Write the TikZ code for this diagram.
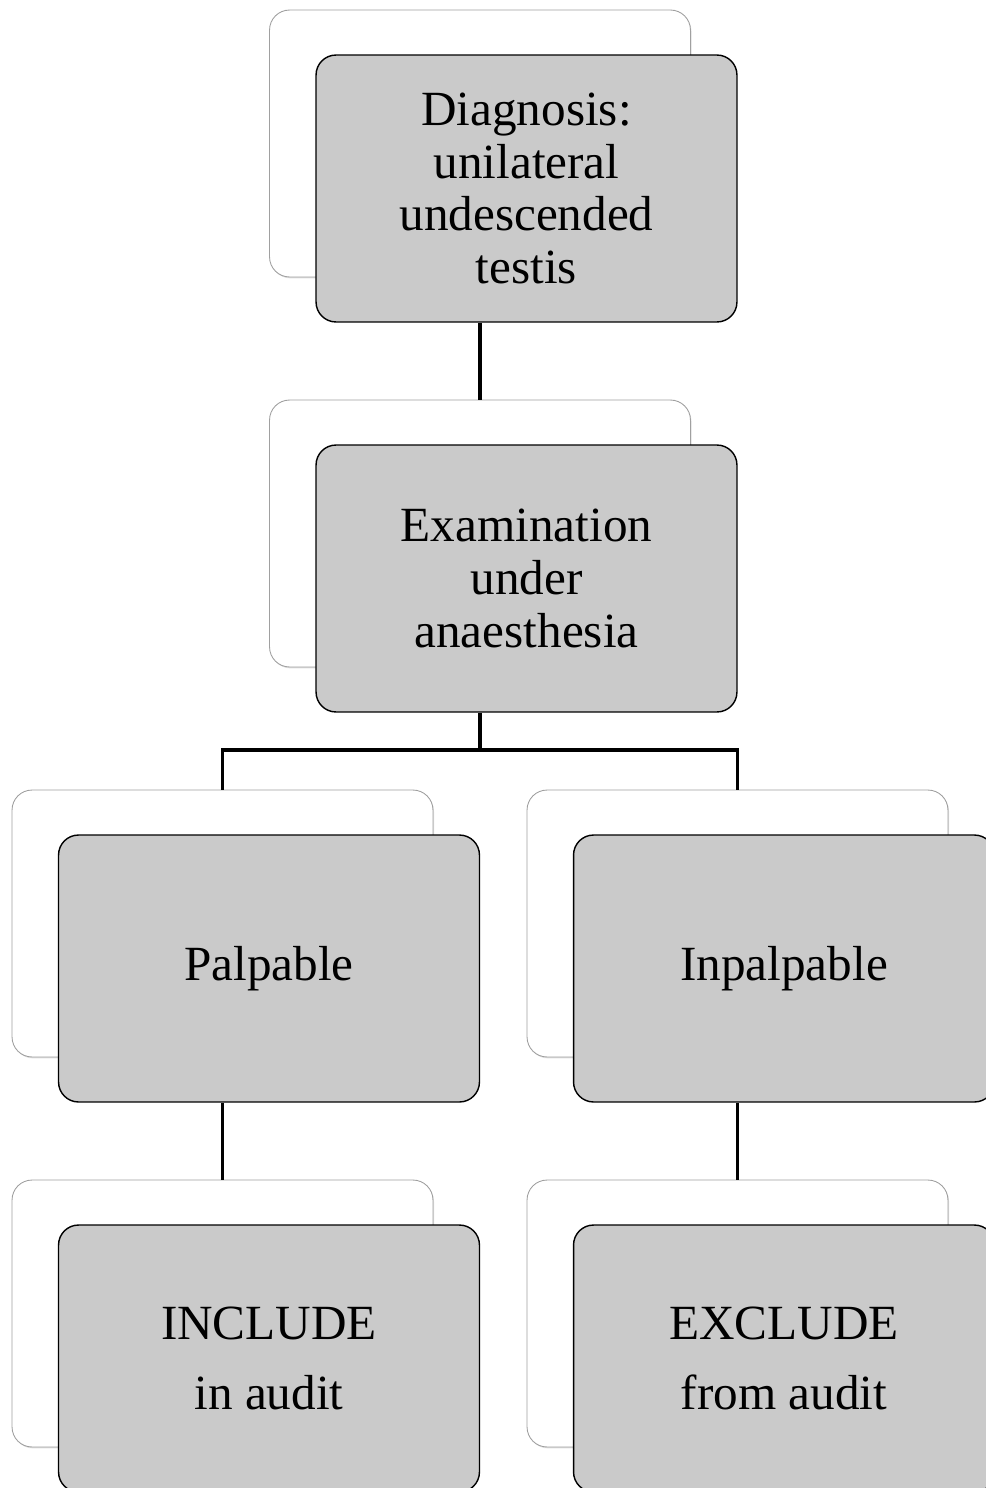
\documentclass[tikz,border=0pt]{standalone}
\usepackage{xcolor}
\usepackage{fontspec}
\setmainfont{Liberation Serif}
\usepackage{tikz}
\usetikzlibrary{positioning,calc,shadows}
\definecolor{cardgray}{RGB}{202,202,202}
\definecolor{edgegray}{RGB}{160,160,160}
\tikzset{
    backcard/.style={rectangle, draw=edgegray, line width=0.5pt, rounded corners=0.4cm, fill=white, minimum width=8.42cm, minimum height=5.34cm, drop shadow={shadow xshift=0.6pt, shadow yshift=-0.8pt, opacity=0.25}},
    frontcard/.style={rectangle, draw, line width=0.8pt, rounded corners=0.4cm, fill=cardgray, minimum width=8.42cm, minimum height=5.34cm, align=center, font=\fontsize{28}{30}\selectfont},
    link/.style={line width=1.8pt},
}

\begin{document}
\begin{tikzpicture}[x=0.02cm, y=-0.02cm]
    \useasboundingbox (0,0) rectangle (986,1488);

    % back cards
    \node[backcard] (dx) at (480,143.5) {};
    \node[backcard] (eua) at (480,533.5) {};
    \node[backcard] (palp) at (222.5,923.5) {};
    \node[backcard] (inpalp) at (737.5,923.5) {};
    \node[backcard] (incl) at (222.5,1313.5) {};
    \node[backcard] (excl) at (737.5,1313.5) {};

    % front cards
    \node[frontcard] (dxf) at ([shift={(46.5,45)}]dx.center) {Diagnosis:\\unilateral\\undescended\\testis};
    \node[frontcard] (euaf) at ([shift={(46.5,45)}]eua.center) {Examination\\under\\anaesthesia};
    \node[frontcard] (palpf) at ([shift={(46.5,45)}]palp.center) {Palpable};
    \node[frontcard] (inpalpf) at ([shift={(46.5,45)}]inpalp.center) {Inpalpable};
    \node[frontcard] (inclf) at ([shift={(46.5,45)}]incl.center) {INCLUDE\\[10pt]in audit};
    \node[frontcard] (exclf) at ([shift={(46.5,45)}]excl.center) {EXCLUDE\\[10pt]from audit};

    \coordinate (fork) at (480,750);

    \draw[link] (dxf.south -| dx.north) -- (eua.north);
    \draw[link] (euaf.south -| eua.north) -- (fork);
    \draw[link] (fork) -| (palp.north);
    \draw[link] (fork) -| (inpalp.north);
    \draw[link] (palpf.south -| palp.north) -- (incl.north);
    \draw[link] (inpalpf.south -| inpalp.north) -- (excl.north);
\end{tikzpicture}
\end{document}
